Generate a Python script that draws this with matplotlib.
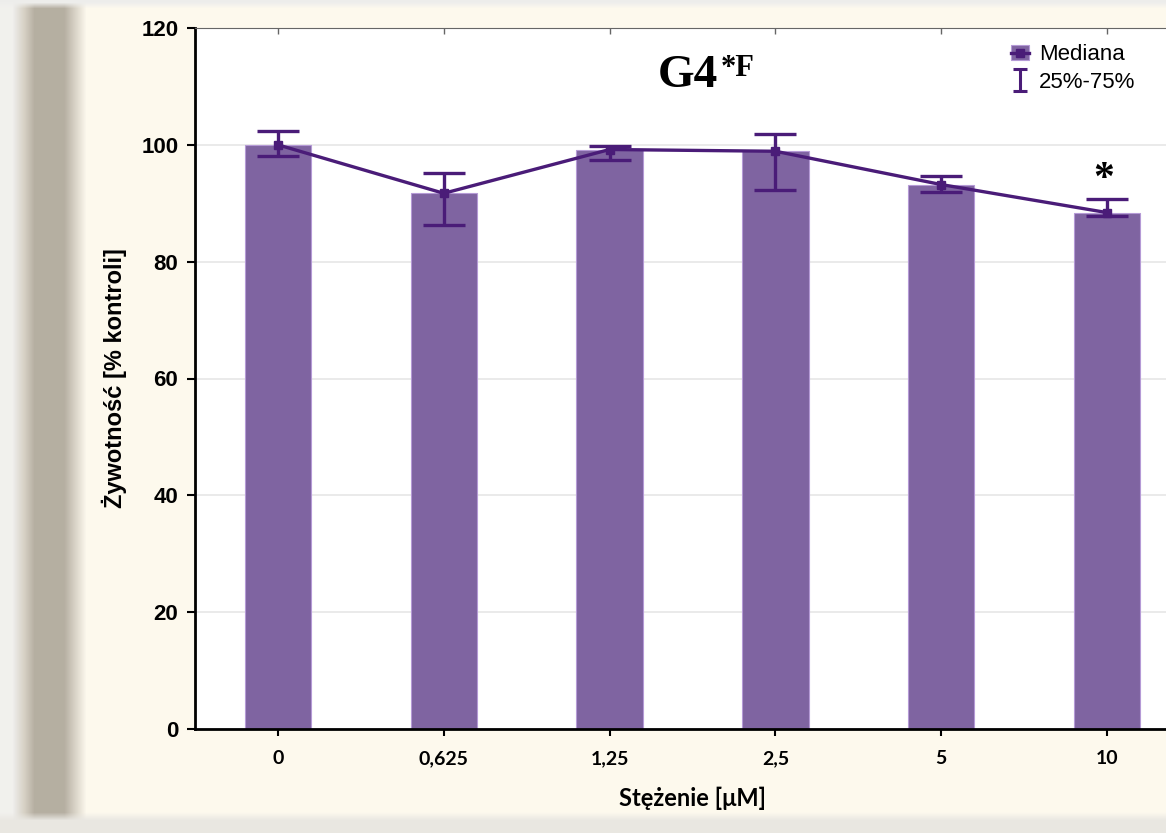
import matplotlib
matplotlib.use("Agg")
import matplotlib.pyplot as plt
import numpy as np

# viability, % of control (median with 25-75% range)
concentrations = ["0", "0,625", "1,25", "2,5", "5", "10"]
median = [100.0, 91.7, 99.2, 98.9, 93.2, 88.4]
q25 = [98.1, 86.3, 97.4, 92.3, 92.0, 87.8]
q75 = [102.4, 95.2, 99.8, 101.9, 94.7, 90.8]
significant = [False, False, False, False, False, True]

BAR = "#7f64a1"
LINE = "#4a1c78"
CREAM = "#fdf9ee"

fig = plt.figure(figsize=(11.66, 8.33), dpi=100, facecolor=CREAM)

# page background: grey spine on the left, light band at the bottom
bg = fig.add_axes([0, 0, 1, 1], zorder=-10)
W, H = 1166, 833
xs = np.arange(W)
cream = np.array([0xfd, 0xf9, 0xee]) / 255
strip = np.array([0xb6, 0xaf, 0xa2]) / 255
edge = np.array([0xf2, 0xf1, 0xee]) / 255
w_strip = np.clip((xs - 12) / 22, 0, 1) * np.clip((86 - xs) / 22, 0, 1)
w_edge = np.clip((24 - xs) / 10, 0, 1)
row = cream * (1 - w_strip - w_edge)[:, None] + strip * w_strip[:, None] + edge * w_edge[:, None]
img = np.repeat(row[None, :, :], H, axis=0)
ys = np.arange(H)
w_bot = np.clip((ys - 812) / 8, 0, 1)[:, None, None]
img = img * (1 - w_bot) + np.array([0xe9, 0xe7, 0xe2]) / 255 * w_bot
w_top = np.clip((8 - ys) / 6, 0, 1)[:, None, None]
img = img * (1 - w_top) + np.array([0xee, 0xee, 0xec]) / 255 * w_top
bg.imshow(img, aspect="auto", extent=(0, 1, 0, 1), origin="upper")
bg.set_axis_off()

ax = fig.add_axes([195 / W, 1 - 729 / H, (1190 - 195) / W, (729 - 28) / H])
ax.set_facecolor("white")
x = np.arange(len(concentrations))

bars = ax.bar(x, median, width=0.4, color=BAR, edgecolor="#b59ad6", linewidth=0.8, zorder=2)
line, = ax.plot(x, median, color=LINE, lw=2.4, marker="s", ms=6, zorder=4)
err = np.array([np.subtract(median, q25), np.subtract(q75, median)])
ax.errorbar(x, median, yerr=err, fmt="none", ecolor=LINE, elinewidth=2.4,
            capsize=15, capthick=2.4, zorder=5)
# smaller copy of the whisker style, used only as the legend key
eb_key = ax.errorbar([np.nan], [np.nan], yerr=[[1], [1]], fmt="none", ecolor=LINE,
                     elinewidth=2.2, capsize=5, capthick=2.2)

for xi, hi, s in zip(x, q75, significant):
    if s:
        ax.text(xi - 0.02, hi, "*", ha="center", va="bottom", fontsize=30,
                family="Liberation Serif", fontweight="bold")

ax.set_xlim(-0.5, 5.5)
ax.set_ylim(0, 120)
ax.set_yticks(range(0, 121, 20))
ax.set_xticks(x)
ax.set_xticklabels(concentrations, family=["Lato", "DejaVu Sans"],
                   fontweight="bold", fontsize=14)
ax.tick_params(axis="x", length=5, width=1.5, pad=10)
ax.tick_params(axis="y", length=6, width=1.5, labelsize=16, pad=6)
for lab in ax.get_yticklabels():
    lab.set_fontweight("bold")
    lab.set_family("Liberation Sans")
ax.grid(axis="y", color="#e6e6e6", lw=1.2, zorder=0)
ax.set_axisbelow(True)
for s in ("left", "bottom"):
    ax.spines[s].set_linewidth(2)
ax.spines["top"].set_color("#666666")
ax.spines["right"].set_visible(False)
top = ax.secondary_xaxis("top")
top.set_xticks(x)
top.set_xticklabels([])
top.tick_params(length=4, width=1, color="#666666", direction="in")
top.spines["top"].set_visible(False)

ax.set_xlabel("Stężenie [μM]", fontsize=17, fontweight="bold",
              family=["Lato", "DejaVu Sans"], labelpad=14)
ax.set_ylabel("Żywotność [% kontroli]", fontsize=17, fontweight="bold",
              family="Liberation Sans", labelpad=10)

ax.text(0.465, 0.932, "G4", transform=ax.transAxes, fontsize=34, fontweight="bold",
        family="Liberation Serif", ha="left", va="center")
ax.text(0.528, 0.942, "*F", transform=ax.transAxes, fontsize=22, fontweight="bold",
        family="Liberation Serif", ha="left", va="center")

ax.legend([(bars, line), eb_key], ["Mediana", "25%-75%"], loc="upper left",
          bbox_to_anchor=(0.8, 1.005), frameon=False,
          handlelength=0.8, handletextpad=0.45, labelspacing=0.3,
          prop={"family": "Liberation Sans", "size": 16})

fig.savefig("out.png", dpi=100, facecolor=fig.get_facecolor())
